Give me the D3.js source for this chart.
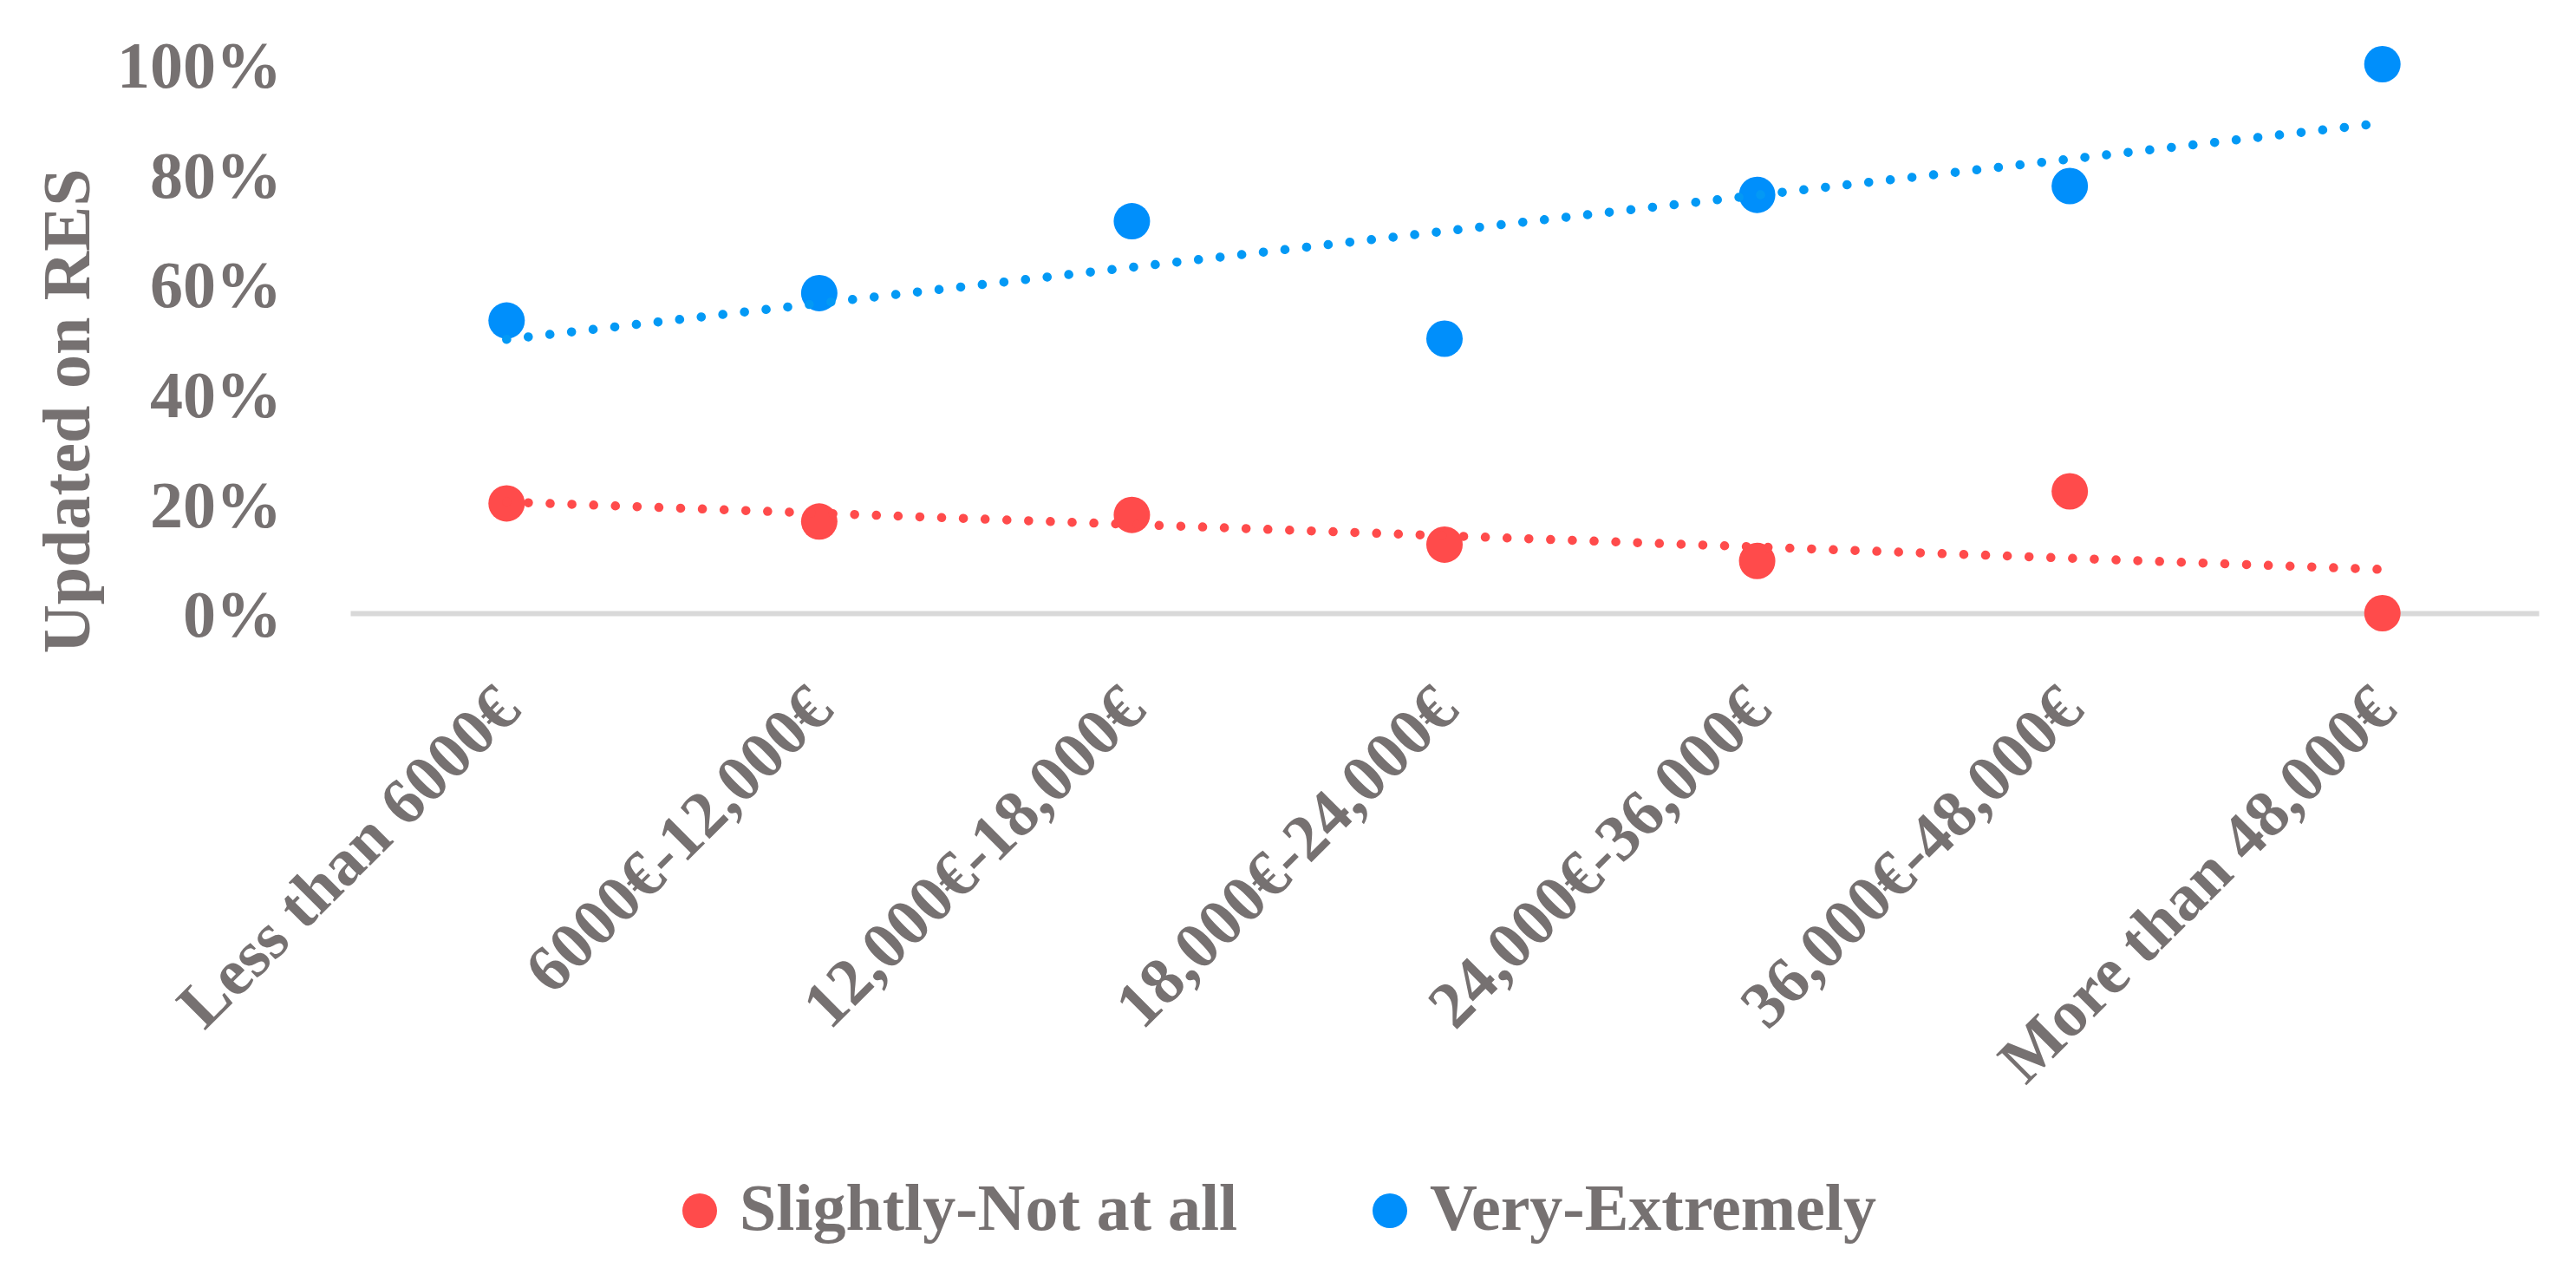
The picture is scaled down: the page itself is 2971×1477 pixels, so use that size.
<!DOCTYPE html>
<html>
<head>
<meta charset="utf-8">
<script src="https://cdn.jsdelivr.net/npm/d3@7/dist/d3.min.js"></script>
<style>
  html, body { margin: 0; padding: 0; background: #ffffff; }
  svg { display: block; }
  text { font-family: "Liberation Serif", "DejaVu Serif", serif; font-weight: bold; fill: #767171; }
</style>
</head>
<body>
<script>
// ---- data ----
const categories = ["Less than 6000€", "6000€-12,000€", "12,000€-18,000€", "18,000€-24,000€", "24,000€-36,000€", "36,000€-48,000€", "More than 48,000€"];
const slightlyNotAtAll = [0.200, 0.167, 0.179, 0.125, 0.095, 0.222, 0.000];
const veryExtremely = [0.533, 0.583, 0.714, 0.500, 0.762, 0.778, 1.000];
const seriesNames = ["Slightly-Not at all", "Very-Extremely"];
const yTicks = [0, 0.2, 0.4, 0.6, 0.8, 1.0];
const yTitle = "Updated on RES";

// ---- layout ----
const W = 2971, H = 1477;
const svg = d3.select("body").append("svg").attr("width", W).attr("height", H);
svg.append("rect").attr("width", W).attr("height", H).attr("fill", "#ffffff");

const x = d3.scaleBand().domain(categories).range([404, 2928]);
const y = d3.scaleLinear().domain([0, 1]).range([707, 74]);
const xc = d => x(d) + x.bandwidth() / 2;

const colors = { red: "#FF4B4B", blue: "#008FFB", blueTrend: "#0399F5" };
const textColor = "#767171";

// y axis labels
const yAxis = svg.append("g").attr("transform", "translate(404,0)")
  .call(d3.axisLeft(y).tickValues(yTicks).tickFormat(d3.format(".0%")).tickSize(0).tickPadding(79));
yAxis.select(".domain").remove();
yAxis.selectAll("text").attr("font-size", 76).attr("dy", "0.35em")
  .style("font-family", '"Liberation Serif", serif').style("font-weight", "bold").attr("fill", textColor);

// x axis
const xAxis = svg.append("g").attr("transform", `translate(0,${y(0)})`)
  .call(d3.axisBottom(x).tickSize(0).tickSizeOuter(0));
xAxis.select(".domain").attr("stroke", "#D9D9D9").attr("stroke-width", 6);
xAxis.selectAll("text")
  .attr("font-size", 76).attr("y", 0).attr("x", 0).attr("dy", "0.35em")
  .attr("text-anchor", "end")
  .attr("transform", "translate(0,96) rotate(-45)")
  .style("font-family", '"Liberation Serif", serif').style("font-weight", "bold").attr("fill", textColor);

// y title
svg.append("text").attr("transform", "translate(103,474) rotate(-90)")
  .attr("text-anchor", "middle").attr("font-size", 78).text(yTitle);

// linear trend
function trend(vals) {
  const xs = vals.map((v, i) => i + 1);
  const mx = d3.mean(xs), my = d3.mean(vals);
  const b = d3.sum(xs, (xi, i) => (xi - mx) * (vals[i] - my)) / d3.sum(xs, xi => (xi - mx) ** 2);
  const a = my - b * mx;
  return [categories[0], categories[categories.length - 1]].map((c, k) => ({ c, v: a + b * (k === 0 ? 1 : vals.length) }));
}

const series = [
  { name: seriesNames[0], vals: slightlyNotAtAll, color: colors.red, tcolor: colors.red },
  { name: seriesNames[1], vals: veryExtremely, color: colors.blue, tcolor: colors.blueTrend }
];

series.forEach(s => {
  svg.append("g").selectAll("circle").data(categories).join("circle")
    .attr("cx", d => xc(d)).attr("cy", (d, i) => y(s.vals[i])).attr("r", 21).attr("fill", s.color);
});
const line = d3.line().x(d => xc(d.c)).y(d => y(d.v));
series.forEach(s => {
  svg.append("path").datum(trend(s.vals)).attr("d", line)
    .attr("fill", "none").attr("stroke", s.tcolor).attr("stroke-width", 10.5)
    .attr("stroke-linecap", "round").attr("stroke-dasharray", "0.1 25");
});

// legend
const legendPos = [{ cx: 807, tx: 853 }, { cx: 1603, tx: 1649 }];
series.forEach((s, i) => {
  svg.append("circle").attr("cx", legendPos[i].cx).attr("cy", 1396).attr("r", 20).attr("fill", s.color);
  svg.append("text").attr("x", legendPos[i].tx).attr("y", 1418).attr("font-size", 76).text(s.name);
});
</script>
</body>
</html>
